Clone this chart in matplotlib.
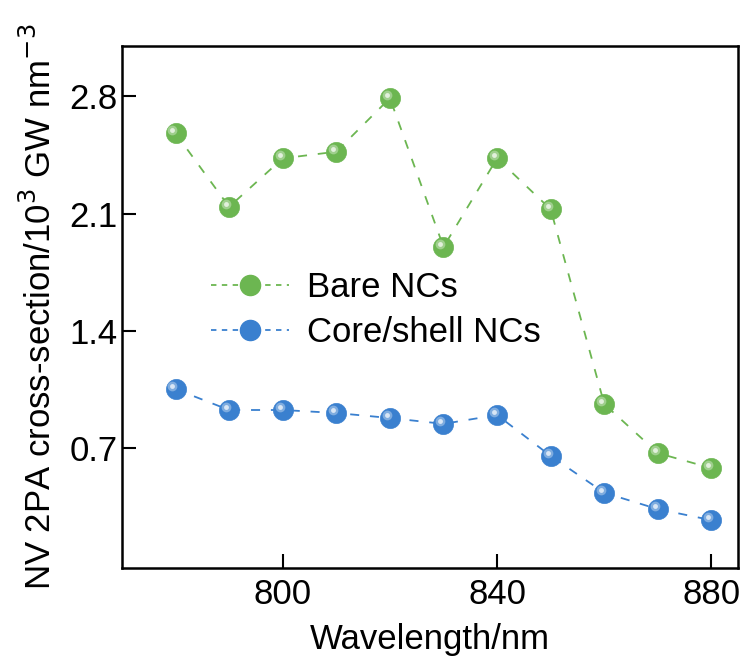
import matplotlib
matplotlib.use("Agg")
import matplotlib.pyplot as plt
import matplotlib.transforms as mtransforms
from matplotlib.lines import Line2D

plt.rcParams['font.family'] = ['Liberation Sans', 'DejaVu Sans']

# data
wavelength = [780, 790, 800, 810, 820, 830, 840, 850, 860, 870, 880]
bare = [2.58, 2.14, 2.43, 2.47, 2.79, 1.90, 2.43, 2.125, 0.96, 0.667, 0.577]
core_shell = [1.05, 0.925, 0.925, 0.907, 0.877, 0.842, 0.895, 0.65, 0.43, 0.332, 0.266]
xticks = [800, 840, 880]
yticks = [0.7, 1.4, 2.1, 2.8]

green = '#6cb651'
blue = '#3a80cf'
fs = 25

fig = plt.figure(figsize=(7.48, 6.62), dpi=100)
ax = fig.add_axes([0.163, 0.142, 0.824, 0.788])

hl = mtransforms.offset_copy(ax.transData, fig=fig, x=-2.2, y=2.2, units='points')

for ys, c in [(bare, green), (core_shell, blue)]:
    ax.plot(wavelength, ys, ls=(0, (5, 6)), lw=1.3, color=c, zorder=2)
    ax.plot(wavelength, ys, ls='none', marker='o', ms=14.5, mfc=c, mec=c, mew=0.5, zorder=3)
    # little shine on each sphere
    ax.plot(wavelength, ys, ls='none', marker='o', ms=7, mfc='white', mec='none', alpha=0.35,
            zorder=4, transform=hl)
    ax.plot(wavelength, ys, ls='none', marker='o', ms=3.5, mfc='white', mec='none', alpha=0.7,
            zorder=5, transform=hl)

ax.set_xlim(770, 885)
ax.set_ylim(-0.02, 3.1)
ax.set_xticks(xticks)
ax.set_yticks(yticks)
ax.tick_params(direction='in', length=10, width=1.5, labelsize=fs)
ax.tick_params(axis='x', pad=7)
ax.tick_params(axis='y', pad=3)
for s in ax.spines.values():
    s.set_linewidth(1.8)

ax.set_xlabel('Wavelength/nm', fontsize=fs, labelpad=9)
ax.set_ylabel('NV 2PA cross-section/10$^3$ GW nm$^{-3}$', fontsize=fs, labelpad=8)

handles = [
    Line2D([], [], ls=(0, (3, 3)), lw=1.3, color=green, marker='o', ms=14.5, mfc=green, mec=green),
    Line2D([], [], ls=(0, (3, 3)), lw=1.3, color=blue, marker='o', ms=14.5, mfc=blue, mec=blue),
]
ax.legend(handles, ['Bare NCs', 'Core/shell NCs'], loc='center left',
          bbox_to_anchor=(180 / 748, 1 - 310 / 662), bbox_transform=fig.transFigure,
          frameon=False, fontsize=fs, handlelength=2.25, handletextpad=0.5, labelspacing=0.33)

fig.savefig('out.png', dpi=100)
